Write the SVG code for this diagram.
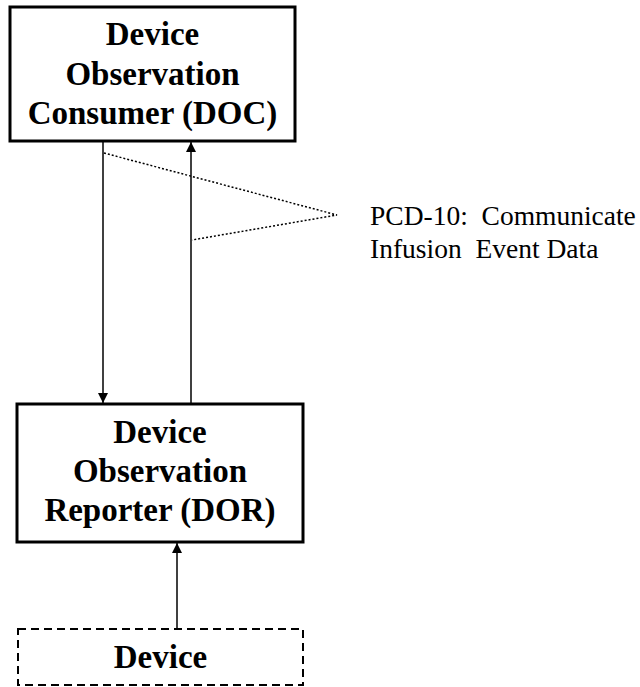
<svg xmlns="http://www.w3.org/2000/svg" width="640" height="687" viewBox="0 0 640 687">
<defs>
<marker id="ah" viewBox="0 0 10 10" refX="10" refY="5" markerWidth="10" markerHeight="10" markerUnits="userSpaceOnUse" orient="auto">
<path d="M0,0 L10,5 L0,10 z" fill="#000"/>
</marker>
<style>
.box{fill:#fff;stroke:#000;stroke-width:3}
.dbox{fill:#fff;stroke:#000;stroke-width:2;stroke-dasharray:8,5}
.t{font-family:"Liberation Serif","Times New Roman",serif;font-weight:bold;font-size:33px;text-anchor:middle;fill:#000}
.lbl{font-family:"Liberation Serif","Times New Roman",serif;font-size:27.5px;fill:#000}
.ln{stroke:#000;stroke-width:1.5;fill:none}
.dot{stroke:#000;stroke-width:1.5;fill:none;stroke-dasharray:2,2}
</style>
</defs>
<g id="connectors">
<line class="ln" x1="103" y1="142" x2="103" y2="403" marker-end="url(#ah)"/>
<line class="ln" x1="191" y1="403" x2="191" y2="142" marker-end="url(#ah)"/>
<line class="ln" x1="177" y1="629" x2="177" y2="543" marker-end="url(#ah)"/>
<polyline class="dot" points="104,153 337,215 192,240"/>
</g>
<g id="doc">
<rect class="box" x="10" y="7" width="285" height="134"/>
<text class="t" x="152.5" y="45">Device</text>
<text class="t" x="152.5" y="84.5">Observation</text>
<text class="t" x="152.5" y="124">Consumer (DOC)</text>
</g>
<g id="dor">
<rect class="box" x="17" y="404" width="286" height="138"/>
<text class="t" x="160" y="443">Device</text>
<text class="t" x="160" y="482">Observation</text>
<text class="t" x="160" y="521">Reporter (DOR)</text>
</g>
<g id="device">
<rect class="dbox" x="18" y="629" width="285" height="56"/>
<text class="t" x="160.5" y="668">Device</text>
</g>
<g id="label">
<text class="lbl" x="370" y="225" xml:space="preserve">PCD-10:  Communicate</text>
<text class="lbl" x="370" y="258" xml:space="preserve">Infusion  Event Data</text>
</g>
</svg>
